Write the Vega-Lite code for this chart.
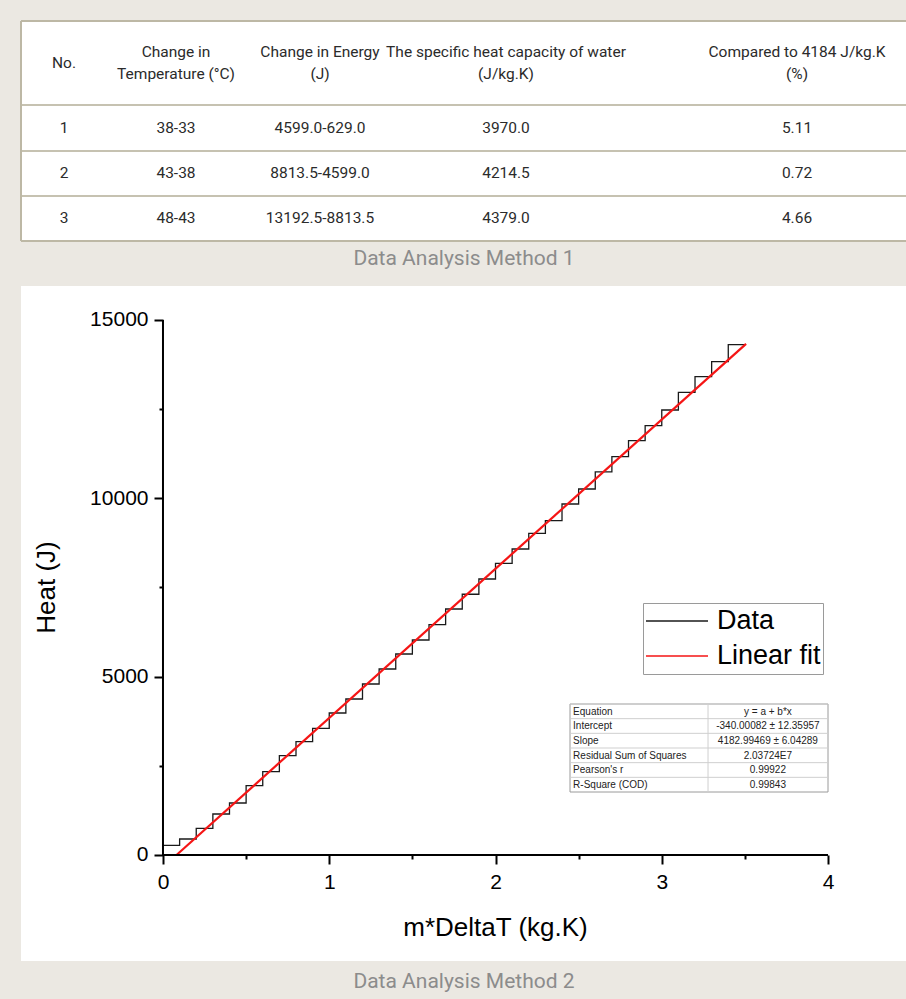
{
  "$schema": "https://vega.github.io/schema/vega-lite/v6.json",
  "background": "#ebe8e2",
  "padding": {"left": 20, "top": 20, "right": 0, "bottom": 7},
  "spacing": 17,
  "config": {"view": {"stroke": null}, "font": "Roboto"},
  "datasets": {
    "cells": [
      {"r": 0, "c": 0, "t": "No."},
      {"r": 0, "c": 1, "t": "Change in\nTemperature (°C)"},
      {"r": 0, "c": 2, "t": "Change in Energy\n(J)"},
      {"r": 0, "c": 3, "t": "The specific heat capacity of water\n(J/kg.K)"},
      {"r": 0, "c": 4, "t": "Compared to 4184 J/kg.K\n(%)"},
      {"r": 1, "c": 0, "t": "1"},
      {"r": 1, "c": 1, "t": "38-33"},
      {"r": 1, "c": 2, "t": "4599.0-629.0"},
      {"r": 1, "c": 3, "t": "3970.0"},
      {"r": 1, "c": 4, "t": "5.11"},
      {"r": 2, "c": 0, "t": "2"},
      {"r": 2, "c": 1, "t": "43-38"},
      {"r": 2, "c": 2, "t": "8813.5-4599.0"},
      {"r": 2, "c": 3, "t": "4214.5"},
      {"r": 2, "c": 4, "t": "0.72"},
      {"r": 3, "c": 0, "t": "3"},
      {"r": 3, "c": 1, "t": "48-43"},
      {"r": 3, "c": 2, "t": "13192.5-8813.5"},
      {"r": 3, "c": 3, "t": "4379.0"},
      {"r": 3, "c": 4, "t": "4.66"}
    ],
    "stairs": [
      {"x": 0.0, "heat": 270, "series": "Data"},
      {"x": 0.1, "heat": 449, "series": "Data"},
      {"x": 0.2, "heat": 748, "series": "Data"},
      {"x": 0.3, "heat": 1150, "series": "Data"},
      {"x": 0.4, "heat": 1458, "series": "Data"},
      {"x": 0.5, "heat": 1944, "series": "Data"},
      {"x": 0.6, "heat": 2336, "series": "Data"},
      {"x": 0.7, "heat": 2785, "series": "Data"},
      {"x": 0.8, "heat": 3177, "series": "Data"},
      {"x": 0.9, "heat": 3551, "series": "Data"},
      {"x": 1.0, "heat": 3981, "series": "Data"},
      {"x": 1.1, "heat": 4374, "series": "Data"},
      {"x": 1.2, "heat": 4794, "series": "Data"},
      {"x": 1.3, "heat": 5215, "series": "Data"},
      {"x": 1.4, "heat": 5636, "series": "Data"},
      {"x": 1.5, "heat": 6028, "series": "Data"},
      {"x": 1.6, "heat": 6457, "series": "Data"},
      {"x": 1.7, "heat": 6897, "series": "Data"},
      {"x": 1.8, "heat": 7310, "series": "Data"},
      {"x": 1.9, "heat": 7738, "series": "Data"},
      {"x": 2.0, "heat": 8178, "series": "Data"},
      {"x": 2.1, "heat": 8579, "series": "Data"},
      {"x": 2.2, "heat": 9019, "series": "Data"},
      {"x": 2.3, "heat": 9373, "series": "Data"},
      {"x": 2.4, "heat": 9841, "series": "Data"},
      {"x": 2.5, "heat": 10262, "series": "Data"},
      {"x": 2.6, "heat": 10740, "series": "Data"},
      {"x": 2.7, "heat": 11168, "series": "Data"},
      {"x": 2.8, "heat": 11616, "series": "Data"},
      {"x": 2.9, "heat": 12037, "series": "Data"},
      {"x": 3.0, "heat": 12477, "series": "Data"},
      {"x": 3.1, "heat": 12973, "series": "Data"},
      {"x": 3.2, "heat": 13410, "series": "Data"},
      {"x": 3.3, "heat": 13831, "series": "Data"},
      {"x": 3.4, "heat": 14307, "series": "Data"},
      {"x": 3.5, "heat": 14307, "series": "Data"}
    ],
    "fit": [
      {"x": 0.0813, "heat": 0, "series": "Linear fit"},
      {"x": 3.507, "heat": 14330, "series": "Linear fit"}
    ],
    "stats": [
      {"r": 0, "k": "Equation", "v": "y = a + b*x"},
      {"r": 1, "k": "Intercept", "v": "-340.00082 ± 12.35957"},
      {"r": 2, "k": "Slope", "v": "4182.99469 ± 6.04289"},
      {"r": 3, "k": "Residual Sum of Squares", "v": "2.03724E7"},
      {"r": 4, "k": "Pearson's r", "v": "0.99922"},
      {"r": 5, "k": "R-Square (COD)", "v": "0.99843"}
    ],
    "one": [{}]
  },
  "vconcat": [
    {
      "width": 886,
      "height": 220,
      "view": {"fill": "white", "stroke": null},
      "title": {"text": "Data Analysis Method 1", "orient": "bottom", "anchor": "middle", "font": "Roboto", "fontSize": 21, "fontWeight": "normal", "color": "#8c8c8c", "offset": 6},
      "layer": [
        {
          "data": {"name": "cells"},
          "transform": [{"filter": "datum.r > 0 || datum.c == 0"}],
          "mark": {"type": "text", "font": "Roboto", "fontSize": 15.5, "color": "#2b2b2b", "align": "center", "baseline": "middle"},
          "encoding": {
            "x": {"field": "c", "type": "quantitative", "scale": {"domain": [-1, 0, 1, 2, 3, 4, 5], "range": [0, 43, 155, 299, 485, 776, 886], "nice": false, "zero": false}, "axis": null},
            "y": {"field": "r", "type": "quantitative", "scale": {"domain": [-0.5, 0, 0.5, 1, 1.5, 2, 2.5, 3, 3.5], "range": [0, 42, 84, 107, 130, 152, 175, 197, 220], "nice": false, "zero": false}, "axis": null},
            "text": {"field": "t", "type": "nominal"}
          }
        },
        {
          "data": {"name": "cells"},
          "transform": [{"filter": "datum.r == 0 && datum.c > 0"}],
          "mark": {"type": "text", "font": "Roboto", "fontSize": 15.5, "color": "#2b2b2b", "align": "center", "baseline": "middle", "lineBreak": "\n", "lineHeight": 22, "dy": -11},
          "encoding": {
            "x": {"field": "c", "type": "quantitative"},
            "y": {"field": "r", "type": "quantitative"},
            "text": {"field": "t", "type": "nominal"}
          }
        },
        {"data": {"name": "one"}, "mark": {"type": "rule", "color": "#bdb8a5", "strokeWidth": 2}, "encoding": {"x": {"datum": -1}, "x2": {"datum": 5}, "y": {"datum": -0.5}}},
        {"data": {"name": "one"}, "mark": {"type": "rule", "color": "#c6c2b1", "strokeWidth": 2}, "encoding": {"x": {"datum": -1}, "x2": {"datum": 5}, "y": {"datum": 0.5}}},
        {"data": {"name": "one"}, "mark": {"type": "rule", "color": "#c6c2b1", "strokeWidth": 2}, "encoding": {"x": {"datum": -1}, "x2": {"datum": 5}, "y": {"datum": 1.5}}},
        {"data": {"name": "one"}, "mark": {"type": "rule", "color": "#c6c2b1", "strokeWidth": 2}, "encoding": {"x": {"datum": -1}, "x2": {"datum": 5}, "y": {"datum": 2.5}}},
        {"data": {"name": "one"}, "mark": {"type": "rule", "color": "#bdb8a5", "strokeWidth": 2}, "encoding": {"x": {"datum": -1}, "x2": {"datum": 5}, "y": {"datum": 3.5}}},
        {"data": {"name": "one"}, "mark": {"type": "rule", "color": "#bdb8a5", "strokeWidth": 2}, "encoding": {"x": {"datum": -1}, "y": {"datum": -0.5}, "y2": {"datum": 3.5}}}
      ]
    },
    {
      "width": 886,
      "height": 675,
      "view": {"fill": "white", "stroke": null},
      "title": {"text": "Data Analysis Method 2", "orient": "bottom", "anchor": "middle", "font": "Roboto", "fontSize": 21, "fontWeight": "normal", "color": "#8c8c8c", "offset": 10},
      "resolve": {"scale": {"x": "independent", "y": "independent"}},
      "layer": [
        {
          "layer": [
            {
              "data": {"name": "stairs"},
              "mark": {"type": "line", "interpolate": "step-after", "strokeWidth": 1.3},
              "encoding": {
                "x": {
                  "field": "x", "type": "quantitative",
                  "scale": {"domain": [-0.854, 4.475], "nice": false, "zero": false},
                  "axis": {
                    "title": "m*DeltaT (kg.K)",
                    "values": [0, 0.5, 1, 1.5, 2, 2.5, 3, 3.5, 4],
                    "labelExpr": "datum.value % 1 === 0 ? format(datum.value, 'd') : ''",
                    "offset": -106, "domain": false, "grid": false,
                    "tickColor": "black", "tickWidth": 2,
                    "tickSize": {"condition": {"test": "datum.value % 1 === 0", "value": 9}, "value": 4},
                    "labelFont": "Liberation Sans", "labelFontSize": 21, "labelColor": "black", "labelPadding": 7,
                    "labelFlush": false, "labelOverlap": false,
                    "titleFont": "Liberation Sans", "titleFontSize": 26, "titleFontWeight": "normal", "titleColor": "black",
                    "titleX": 474, "titleY": 72, "titleBaseline": "middle", "titleAlign": "center"
                  }
                },
                "y": {
                  "field": "heat", "type": "quantitative",
                  "scale": {"domain": [-2972, 15953], "nice": false, "zero": false},
                  "axis": {
                    "title": "Heat (J)",
                    "values": [0, 2500, 5000, 7500, 10000, 12500, 15000],
                    "labelExpr": "datum.value % 5000 === 0 ? format(datum.value, 'd') : ''",
                    "offset": -142, "domain": false, "grid": false,
                    "tickColor": "black", "tickWidth": 2,
                    "tickSize": {"condition": {"test": "datum.value % 5000 === 0", "value": 9}, "value": 4},
                    "labelFont": "Liberation Sans", "labelFontSize": 21, "labelColor": "black", "labelPadding": 6,
                    "labelFlush": false, "labelOverlap": false,
                    "titleFont": "Liberation Sans", "titleFontSize": 26, "titleFontWeight": "normal", "titleColor": "black",
                    "titleX": -117, "titleY": 301, "titleAngle": -90, "titleBaseline": "middle", "titleAlign": "center"
                  }
                },
                "color": {
                  "field": "series", "type": "nominal",
                  "scale": {"domain": ["Data", "Linear fit"], "range": ["#1a1a1a", "#f51515"]},
                  "legend": {
                    "orient": "none", "legendX": 622, "legendY": 582, "title": null,
                    "symbolType": "stroke", "symbolSize": 3844, "symbolStrokeWidth": 1.6,
                    "clipHeight": 32, "rowPadding": 3, "padding": 2, "labelOffset": 8,
                    "labelFont": "Liberation Sans", "labelFontSize": 27, "labelColor": "black", "labelLimit": 400,
                    "strokeColor": "#9a9a9a", "fillColor": "white"
                  }
                }
              }
            },
            {
              "data": {"name": "fit"},
              "mark": {"type": "line", "strokeWidth": 2.2},
              "encoding": {
                "x": {"field": "x", "type": "quantitative"},
                "y": {"field": "heat", "type": "quantitative"},
                "color": {"field": "series", "type": "nominal"}
              }
            },
            {"data": {"name": "one"}, "mark": {"type": "rule", "color": "black", "strokeWidth": 2}, "encoding": {"x": {"datum": 0}, "x2": {"datum": 4}, "y": {"datum": 0}}},
            {"data": {"name": "one"}, "mark": {"type": "rule", "color": "black", "strokeWidth": 2}, "encoding": {"x": {"datum": 0}, "y": {"datum": 0}, "y2": {"datum": 15000}}}
          ]
        },
        {
          "layer": [
            {
              "data": {"name": "one"},
              "mark": {"type": "rect", "fill": "white", "stroke": "#9a9a9a", "strokeWidth": 1},
              "encoding": {
                "x": {"datum": 0, "type": "quantitative", "scale": {"domain": [0, 1], "range": [549, 807], "nice": false, "zero": false}, "axis": null},
                "x2": {"datum": 1},
                "y": {"datum": 0, "type": "quantitative", "scale": {"domain": [0, 6], "range": [418, 506], "nice": false, "zero": false}, "axis": null},
                "y2": {"datum": 6}
              }
            },
            {
              "data": {"name": "stats"},
              "mark": {"type": "rule", "color": "#cfcfcf", "strokeWidth": 1},
              "encoding": {"x": {"datum": 0}, "x2": {"datum": 1}, "y": {"field": "r", "type": "quantitative"}}
            },
            {"data": {"name": "one"}, "mark": {"type": "rule", "color": "#cfcfcf", "strokeWidth": 1}, "encoding": {"x": {"datum": 0.535}, "y": {"datum": 0}, "y2": {"datum": 6}}},
            {
              "data": {"name": "stats"},
              "mark": {"type": "text", "font": "Liberation Sans", "fontSize": 10, "color": "#222", "align": "left", "baseline": "top", "dy": 2.5},
              "encoding": {"x": {"datum": 0.012}, "y": {"field": "r", "type": "quantitative"}, "text": {"field": "k", "type": "nominal"}}
            },
            {
              "data": {"name": "stats"},
              "mark": {"type": "text", "font": "Liberation Sans", "fontSize": 10, "color": "#222", "align": "center", "baseline": "top", "dy": 2.5},
              "encoding": {"x": {"datum": 0.767}, "y": {"field": "r", "type": "quantitative"}, "text": {"field": "v", "type": "nominal"}}
            }
          ]
        }
      ]
    }
  ]
}
